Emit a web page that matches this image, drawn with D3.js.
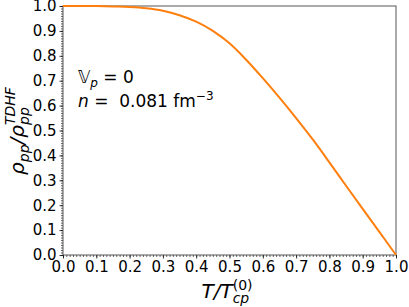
<!DOCTYPE html>
<html><head><meta charset="utf-8">
<script src="https://cdn.jsdelivr.net/npm/d3@7"></script>
<style>
html,body{margin:0;padding:0;background:#fff;}
text{font-family:"DejaVu Sans",sans-serif;white-space:pre;}
</style></head>
<body><svg id="c" width="409" height="307"></svg>
<script>
const tValues = [0, 0.05, 0.1, 0.15, 0.2, 0.25, 0.3, 0.35, 0.4, 0.45, 0.5, 0.55, 0.6, 0.65, 0.7, 0.75, 0.8, 0.85, 0.9, 0.95, 1.0];
const ratioValues = [1, 1, 0.9995, 0.998, 0.996, 0.991, 0.981, 0.963, 0.937, 0.900, 0.850, 0.784, 0.710, 0.632, 0.550, 0.464, 0.372, 0.278, 0.185, 0.093, 0];
const xTicks = [0, 0.1, 0.2, 0.3, 0.4, 0.5, 0.6, 0.7, 0.8, 0.9, 1.0];
const yTicks = [0, 0.1, 0.2, 0.3, 0.4, 0.5, 0.6, 0.7, 0.8, 0.9, 1.0];

const svg = d3.select("#c");
const L = 63, R = 396, T = 6, B = 255;
const x = d3.scaleLinear().domain([0, 1]).range([L, R]);
const y = d3.scaleLinear().domain([0, 1]).range([B, T]);
const minor = d3.range(0, 101).map(i => i / 100);

// minor ticks
svg.append("g").attr("transform", `translate(0,${B})`)
  .call(d3.axisBottom(x).tickValues(minor).tickSize(2).tickFormat(""))
  .call(g => g.select(".domain").remove())
  .call(g => g.selectAll("line").attr("stroke", "#000").attr("stroke-width", 0.6));
svg.append("g").attr("transform", `translate(${L},0)`)
  .call(d3.axisLeft(y).tickValues(minor).tickSize(2).tickFormat(""))
  .call(g => g.select(".domain").remove())
  .call(g => g.selectAll("line").attr("stroke", "#000").attr("stroke-width", 0.6));

// major ticks
const xa = svg.append("g").attr("transform", `translate(0,${B})`)
  .call(d3.axisBottom(x).tickValues(xTicks).tickSize(3.5).tickPadding(3).tickFormat(d3.format(".1f")));
xa.select(".domain").remove();
xa.selectAll("line").attr("stroke", "#000").attr("stroke-width", 0.8);
xa.selectAll("text").attr("font-size", 15).attr("fill", "#000").attr("font-family", "DejaVu Sans");

const ya = svg.append("g").attr("transform", `translate(${L},0)`)
  .call(d3.axisLeft(y).tickValues(yTicks).tickSize(3.5).tickPadding(3).tickFormat(d3.format(".1f")));
ya.select(".domain").remove();
ya.selectAll("line").attr("stroke", "#000").attr("stroke-width", 0.8);
ya.selectAll("text").attr("font-size", 15).attr("fill", "#000").attr("font-family", "DejaVu Sans");

// frame
svg.append("rect").attr("x", L).attr("y", T).attr("width", R - L).attr("height", B - T)
  .attr("fill", "none").attr("stroke", "#444").attr("stroke-width", 0.9);

// curve
const pts = tValues.map((t, i) => [t, ratioValues[i]]);
svg.append("path").datum(pts)
  .attr("fill", "none").attr("stroke", "#ff7f0e").attr("stroke-width", 2)
  .attr("d", d3.line().x(d => x(d[0])).y(d => y(d[1])).curve(d3.curveCatmullRom.alpha(0.5)));

// helper for math-like text with pieces
function mathText(parent, x0, y0, pieces) {
  let cx = x0, lastX = x0;
  pieces.forEach(p => {
    const px = p.stack ? lastX : cx;
    const t = parent.append("text").attr("x", px).attr("y", y0 + (p.dy || 0))
      .attr("font-size", p.size).attr("font-style", p.italic ? "italic" : "normal")
      .attr("fill", "#000").text(p.text);
    const w = t.node().getComputedTextLength();
    if (p.stack) { cx = Math.max(cx, px + w); }
    else { lastX = px; cx = px + w; }
  });
  return cx - x0;
}

// annotations
mathText(svg, 78, 83, [
  {text: "𝕍", size: 17},
  {text: "p", size: 12, italic: true, dy: 4},
  {text: " = 0", size: 17}
]);
mathText(svg, 78, 107, [
  {text: "n", size: 17, italic: true},
  {text: " =  0.081 fm", size: 17},
  {text: "−3", size: 12, dy: -7}
]);

// x label
const xl = svg.append("g");
const xw = mathText(xl, 0, 0, [
  {text: "T/T", size: 20, italic: true},
  {text: "cp", size: 14, italic: true, dy: 5},
  {text: "(0)", size: 14, dy: -8, stack: true}
]);
xl.attr("transform", `translate(${227 - xw / 2},298)`);

// y label
const yl = svg.append("g");
const yw = mathText(yl, 0, 0, [
  {text: "ρ", size: 20, italic: true},
  {text: "pp", size: 14, italic: true, dy: 5},
  {text: "/ρ", size: 20, italic: true},
  {text: "pp", size: 14, italic: true, dy: 5},
  {text: "TDHF", size: 14, italic: true, dy: -9, stack: true}
]);
yl.attr("transform", `translate(24,${131 + yw / 2}) rotate(-90)`);
</script></body></html>
